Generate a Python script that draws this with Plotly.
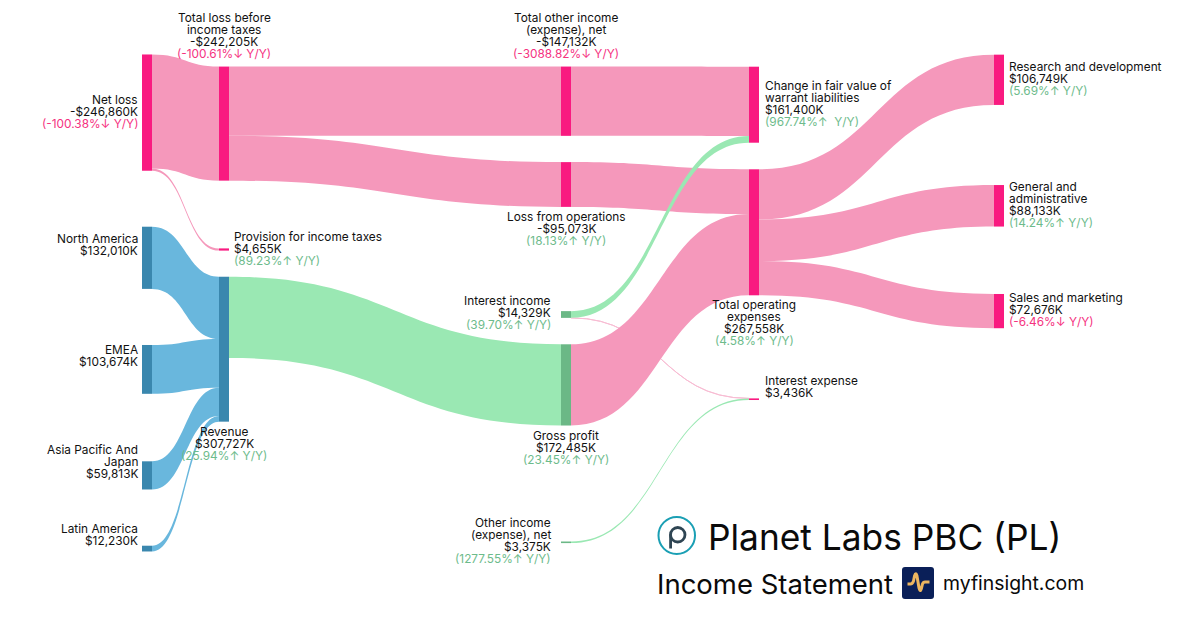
import plotly.graph_objects as go

# nodes
node_names = [
    "Net loss", "North America", "EMEA", "Asia Pacific And Japan", "Latin America",
    "Total loss before income taxes", "Provision for income taxes", "Revenue",
    "Total other income (expense), net", "Loss from operations", "Interest income",
    "Gross profit", "Other income (expense), net",
    "Change in fair value of warrant liabilities", "Total operating expenses", "Interest expense",
    "Research and development", "General and administrative", "Sales and marketing",
]
node_amounts = [
    "-$246,860K", "$132,010K", "$103,674K", "$59,813K", "$12,230K",
    "-$242,205K", "$4,655K", "$307,727K",
    "-$147,132K", "-$95,073K", "$14,329K", "$172,485K", "$3,375K",
    "$161,400K", "$267,558K", "$3,436K",
    "$106,749K", "$88,133K", "$72,676K",
]
node_yoy = [
    "(-100.38%↓ Y/Y)", None, None, None, None,
    "(-100.61%↓ Y/Y)", "(89.23%↑ Y/Y)", "(25.94%↑ Y/Y)",
    "(-3088.82%↓ Y/Y)", "(18.13%↑ Y/Y)", "(39.70%↑ Y/Y)", "(23.45%↑ Y/Y)", "(1277.55%↑ Y/Y)",
    "(967.74%↑  Y/Y)", "(4.58%↑ Y/Y)", None,
    "(5.69%↑ Y/Y)", "(14.24%↑ Y/Y)", "(-6.46%↓ Y/Y)",
]
node_kinds = [
    "loss", "rev", "rev", "rev", "rev",
    "loss", "loss", "rev",
    "loss", "loss", "gain", "gain", "gain",
    "loss", "loss", "loss",
    "loss", "loss", "loss",
]

# links, drawn in this order
link_source = [10, 12, 0, 0, 1, 2, 3, 4, 5, 5, 7, 8, 9, 10, 11, 14, 14, 14]
link_target = [15, 15, 5, 6, 7, 7, 7, 7, 8, 9, 11, 13, 14, 13, 14, 16, 17, 18]
link_value = [61, 3375, 242205, 4655, 132010, 103674, 59813, 12230, 147132, 95073, 172485,
              147132, 95073, 14268, 172485, 106749, 88133, 72676]
link_kinds = ["hair", "gain", "loss", "loss", "rev", "rev", "rev", "rev", "loss", "loss", "gain",
              "loss", "loss", "gain", "loss", "loss", "loss", "loss"]

NODE_COLORS = {"loss": "#F91A80", "gain": "#6BB886", "rev": "#3A87AE"}
LINK_COLORS = {"loss": "#F598BB", "gain": "#9AE8B3", "rev": "#69B7DD", "hair": "#F8BCD3"}
YOY_UP = "#6DBB8B"
YOY_DOWN = "#F5327F"
TEXT = "#111111"
FONT = "Inter"
W, H = 1200, 630

# pixel centres of the nodes
node_cx = [147, 147, 147, 147, 147, 224, 224, 224, 566, 566, 566, 566, 566, 754, 754, 754, 999, 999, 999]
node_cy = [112.6, 257.8, 369.4, 475.4, 548.6, 123.6, 249.5, 349.2, 101.2, 184.5, 314.5, 384.9, 542.3,
           104.7, 232.3, 399.2, 79.8, 205.8, 311.1]

# label placement per node: anchor, x, y of first line, wrapped name
labels = [
    ("right", 138.5, 100.2, ["Net loss"]),
    ("right", 138.5, 239.2, ["North America"]),
    ("right", 138.5, 350.2, ["EMEA"]),
    ("right", 138.5, 450.2, ["Asia Pacific And", "Japan"]),
    ("right", 138.5, 529.2, ["Latin America"]),
    ("center", 224, 18.2, ["Total loss before", "income taxes"]),
    ("left", 233, 237.2, ["Provision for income taxes"]),
    ("center", 224, 432.2, ["Revenue"]),
    ("center", 566, 18.2, ["Total other income", "(expense), net"]),
    ("center", 566, 217.2, ["Loss from operations"]),
    ("right", 552, 301.2, ["Interest income"]),
    ("center", 566, 436.2, ["Gross profit"]),
    ("right", 552, 523.2, ["Other income", "(expense), net"]),
    ("left", 764, 86.2, ["Change in fair value of", "warrant liabilities"]),
    ("center", 754, 305.2, ["Total operating", "expenses"]),
    ("left", 764, 381.2, ["Interest expense"]),
    ("left", 1008, 67.2, ["Research and development"]),
    ("left", 1008, 187.2, ["General and", "administrative"]),
    ("left", 1008, 298.2, ["Sales and marketing"]),
]


def px(x):
    return x / W


def py(y):
    return 1 - y / H


def text_at(x, y, text, anchor="left", size=11.85, color=TEXT):
    return dict(text=text, xref="paper", yref="paper", x=px(x), y=py(y),
                xanchor=anchor, yanchor="middle", showarrow=False, borderpad=0,
                font=dict(family=FONT, size=size, color=color))


annotations = []
for (anchor, x, y, name_lines), amount, yoy in zip(labels, node_amounts, node_yoy):
    for line in name_lines + [amount]:
        annotations.append(text_at(x, y, line, anchor))
        y += 12
    if yoy:
        annotations.append(text_at(x, y, yoy, anchor, color=YOY_DOWN if "↓" in yoy else YOY_UP))

annotations += [
    text_at(706.5, 537, "Planet Labs PBC (PL)", size=35.3, color="#0A0A0A"),
    text_at(656, 584, "Income Statement", size=27.5, color="#0A0A0A"),
    text_at(941.5, 583, "myfinsight.com", size=19.4, color="#0A0A0A"),
]


def svg_path(cmds):
    # cmds is a list of (letter, x, y) in page pixels
    return " ".join("{} {} {}".format(c, px(x), py(y)) for c, x, y in cmds)


icon_outline = [
    ("M", 905, 567), ("L", 931, 567), ("Q", 934, 567), ("", 934, 570),
    ("L", 934, 596), ("Q", 934, 599), ("", 931, 599),
    ("L", 905, 599), ("Q", 902, 599), ("", 902, 596),
    ("L", 902, 570), ("Q", 902, 567), ("", 905, 567),
]
icon_pulse = [
    ("M", 907.5, 584), ("L", 910.5, 584), ("Q", 912.5, 584), ("", 913.5, 581),
    ("L", 914.5, 576), ("Q", 915.8, 571.5), ("", 917, 576),
    ("L", 919, 588), ("Q", 920.2, 593), ("", 921.5, 588),
    ("L", 922.5, 584), ("Q", 923.2, 582), ("", 925, 582), ("L", 929.5, 582),
]

shapes = [
    # company logo
    dict(type="circle", xref="paper", yref="paper", x0=px(658.5), x1=px(695), y0=py(517), y1=py(554),
         line=dict(color="#1A9FB4", width=2)),
    dict(type="circle", xref="paper", yref="paper", x0=px(670.5), x1=px(685), y0=py(527.5), y1=py(542),
         line=dict(color="#2F4553", width=2.8)),
    dict(type="line", xref="paper", yref="paper", x0=px(670.6), x1=px(670.6), y0=py(534.5), y1=py(548.5),
         line=dict(color="#2F4553", width=2.8)),
    # myfinsight icon
    dict(type="path", xref="paper", yref="paper", path=svg_path(icon_outline),
         fillcolor="#0A1F58", line=dict(width=0)),
    dict(type="path", xref="paper", yref="paper", path=svg_path(icon_pulse),
         line=dict(color="#EDB660", width=3)),
]

fig = go.Figure(go.Sankey(
    arrangement="fixed",
    domain=dict(x=[0, 1], y=[0, 1]),
    valueformat=",d",
    hoverinfo="none",
    node=dict(
        label=[""] * len(node_names),
        customdata=node_names,
        x=[px(v) for v in node_cx],
        y=[v / H for v in node_cy],
        color=[NODE_COLORS[k] for k in node_kinds],
        thickness=10,
        pad=60.08,
        line=dict(width=0),
        hoverinfo="none",
    ),
    link=dict(
        source=link_source,
        target=link_target,
        value=link_value,
        color=[LINK_COLORS[k] for k in link_kinds],
        line=dict(width=0),
        hoverinfo="none",
    ),
))

fig.update_layout(
    width=W,
    height=H,
    margin=dict(l=0, r=0, t=0, b=0),
    paper_bgcolor="white",
    font=dict(family=FONT, size=12, color=TEXT),
    annotations=annotations,
    shapes=shapes,
)

fig.write_html(
    "out.html",
    config={"displayModeBar": False},
    post_script="document.body.style.margin='0';document.body.style.overflow='hidden';",
)
